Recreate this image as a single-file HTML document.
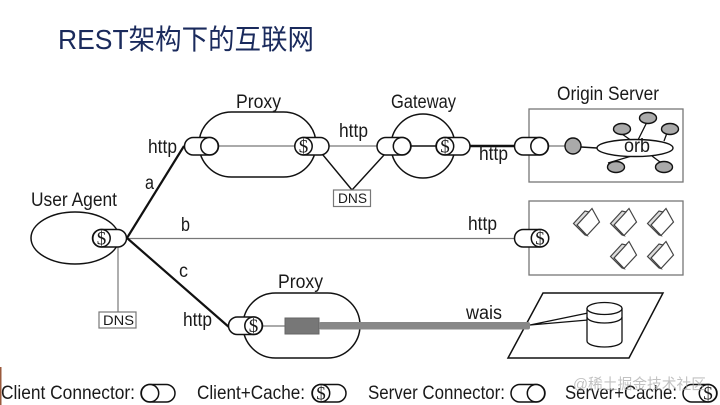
<!DOCTYPE html>
<html><head><meta charset="utf-8">
<style>
html,body{margin:0;padding:0;background:#fff;width:720px;height:405px;overflow:hidden}
svg{display:block;filter:blur(.35px)}
text{font-family:"Liberation Sans","Noto Sans CJK SC",sans-serif;fill:#1a1a1a}
.l{font-size:19px}
.d{font-family:"Liberation Serif",serif;font-size:19px;text-anchor:middle}
</style></head>
<body>
<svg width="720" height="405" viewBox="0 0 720 405" xmlns="http://www.w3.org/2000/svg">
<defs>
<g id="fold">
  <path d="M-9,3 L6,-13.500 L13.500,0 L1,13.500 Z" fill="#fff" stroke="#444" stroke-width="1.2"/>
  <path d="M-12.500,1.500 L-1,-11 L3,-10 L-9,3 L1,13.500 L-1,13 Z" fill="#ddd" stroke="#444" stroke-width="1.2"/>
</g>
<ellipse id="sat" rx="8.500" ry="5.500" fill="#aaa" stroke="#111" stroke-width="1.4"/>
</defs>
<rect width="720" height="405" fill="#fff"/>
<rect x="0" y="367" width="1.500" height="38" fill="#9a5a3c"/>

<text x="58" y="49" font-size="28" textLength="256" lengthAdjust="spacingAndGlyphs" style="fill:#1a2a5c">REST架构下的互联网</text>

<!-- nodes -->
<g fill="#fff" stroke="#111" stroke-width="1.500">
  <rect x="199" y="112" width="117" height="65" rx="32.500"/>
  <rect x="243" y="293" width="117" height="65" rx="32.500"/>
  <ellipse cx="75" cy="238" rx="44" ry="26"/>
  <circle cx="423" cy="146" r="32"/>
</g>
<g fill="#fff" stroke="#777" stroke-width="1.300">
  <rect x="529" y="109" width="154" height="73"/>
  <rect x="529" y="201" width="154" height="74"/>
</g>

<!-- thin lines -->
<g stroke="#777" stroke-width="1.200" fill="none">
  <path d="M127,238.500H515"/>
  <path d="M118,247V312"/>
  <path d="M218,146H294M329,146H377"/>
  <path d="M263,326H285"/>
  <path d="M548,146H565"/>
</g>

<!-- thick connectors -->
<g stroke="#111" fill="none">
  <path d="M127,238L184,146" stroke-width="2.200"/>
  <path d="M127,238L230,328" stroke-width="2.200"/>
  <path d="M323,155L352,190L384,155" stroke-width="1.400"/>
  <path d="M411,146H436" stroke-width="1.400"/>
  <path d="M470,146H515" stroke-width="2.600"/>
  <path d="M581,147L597,148" stroke-width="1.400"/>
  <path d="M638,140L647,122M622,134L632,141M664,141L667,133M608,163L635,155M660,162L652,156" stroke-width="1.300"/>
</g>

<!-- pills -->
<g fill="#fff" stroke="#111" stroke-width="1.500">
  <rect x="184.500" y="137.500" width="34" height="17.500" rx="8.750"/><circle cx="209.500" cy="146.200" r="8.700"/>
  <rect x="295" y="137.500" width="34" height="17.500" rx="8.750"/><circle cx="303.500" cy="146.200" r="8.700"/>
  <rect x="377" y="137.500" width="34" height="17.500" rx="8.750"/><circle cx="402" cy="146.200" r="8.700"/>
  <rect x="436" y="137.500" width="34" height="17.500" rx="8.750"/><circle cx="445" cy="146.200" r="8.700"/>
  <rect x="514.500" y="137.500" width="34" height="17.500" rx="8.750"/><circle cx="539.500" cy="146.200" r="8.700"/>
  <rect x="514.500" y="229.500" width="34" height="17.500" rx="8.750"/><circle cx="540" cy="238.200" r="8.700"/>
  <rect x="92.500" y="229.500" width="34" height="17.500" rx="8.750"/><circle cx="101.500" cy="238.200" r="8.700"/>
  <rect x="228.500" y="317" width="34" height="17.500" rx="8.750"/><circle cx="253.500" cy="325.700" r="8.700"/>
  <rect x="141" y="384.500" width="34" height="17.500" rx="8.750"/><circle cx="150" cy="393.200" r="8.700"/>
  <rect x="312" y="384.500" width="34" height="17.500" rx="8.750"/><circle cx="321" cy="393.200" r="8.700"/>
  <rect x="511" y="384.500" width="34" height="17.500" rx="8.750"/><circle cx="536" cy="393.200" r="8.700"/>
  <rect x="683" y="384.500" width="34" height="17.500" rx="8.750"/><circle cx="708" cy="393.200" r="8.700"/>
</g>
<text class="d" x="303.500" y="152.500">$</text>
<text class="d" x="445" y="152.500">$</text>
<text class="d" x="540" y="244.500">$</text>
<text class="d" x="101.500" y="244.500">$</text>
<text class="d" x="253.500" y="332">$</text>
<text class="d" x="321" y="399.500">$</text>
<text class="d" x="708" y="399.500">$</text>

<!-- origin server -->
<circle cx="573" cy="146" r="8" fill="#aaa" stroke="#111" stroke-width="1.400"/>
<ellipse cx="635" cy="148" rx="38" ry="8.500" fill="#fff" stroke="#111" stroke-width="1.400"/>
<use href="#sat" x="648" y="118"/>
<use href="#sat" x="622" y="129"/>
<use href="#sat" x="670" y="129"/>
<use href="#sat" x="616" y="167"/>
<use href="#sat" x="664" y="167"/>

<!-- folders -->
<use href="#fold" x="586" y="222"/>
<use href="#fold" x="623" y="222"/>
<use href="#fold" x="660" y="222"/>
<use href="#fold" x="623" y="255"/>
<use href="#fold" x="660" y="255"/>

<!-- DNS boxes -->
<g fill="#fff" stroke="#777" stroke-width="1.200">
  <rect x="99" y="312" width="37" height="16"/>
  <rect x="333.500" y="190" width="37" height="16.500"/>
</g>

<!-- wais -->
<path d="M543,293H663L629,358H508Z" fill="#fff" stroke="#111" stroke-width="1.500"/>
<path d="M530,325L588,313M530,325L588,320" stroke="#111" stroke-width="1.300" fill="none"/>
<path d="M587,308.500V341A17.500,6 0 0 0 622,341V308.500Z" fill="#fff" stroke="#111" stroke-width="1.300"/>
<ellipse cx="604.500" cy="308.500" rx="17.500" ry="6" fill="#fff" stroke="#111" stroke-width="1.300"/>
<path d="M587,317A17.500,6 0 0 0 622,317" fill="none" stroke="#111" stroke-width="1.300"/>
<rect x="285" y="318" width="34" height="16" fill="#777" stroke="#666"/>
<rect x="319" y="322" width="211" height="7.500" rx="2" fill="#888"/>

<!-- labels -->
<text class="l" x="236" y="108" textLength="45" lengthAdjust="spacingAndGlyphs">Proxy</text>
<text class="l" x="148" y="153" textLength="29" lengthAdjust="spacingAndGlyphs">http</text>
<text class="l" x="145" y="189" textLength="9" lengthAdjust="spacingAndGlyphs">a</text>
<text class="l" x="31" y="206" textLength="86" lengthAdjust="spacingAndGlyphs">User Agent</text>
<text class="l" x="181" y="231" textLength="9" lengthAdjust="spacingAndGlyphs">b</text>
<text class="l" x="179" y="277" textLength="9" lengthAdjust="spacingAndGlyphs">c</text>
<text class="l" x="183" y="326" textLength="29" lengthAdjust="spacingAndGlyphs">http</text>
<text class="l" x="278" y="288" textLength="45" lengthAdjust="spacingAndGlyphs">Proxy</text>
<text class="l" x="339" y="137" textLength="29" lengthAdjust="spacingAndGlyphs">http</text>
<text class="l" x="391" y="108" textLength="65" lengthAdjust="spacingAndGlyphs">Gateway</text>
<text class="l" x="557" y="100" textLength="102" lengthAdjust="spacingAndGlyphs">Origin Server</text>
<text class="l" x="479" y="160" textLength="29" lengthAdjust="spacingAndGlyphs">http</text>
<text class="l" x="468" y="230" textLength="29" lengthAdjust="spacingAndGlyphs">http</text>
<text class="l" x="466" y="319" textLength="36" lengthAdjust="spacingAndGlyphs">wais</text>
<text class="l" x="624" y="152" textLength="26" lengthAdjust="spacingAndGlyphs">orb</text>
<text x="103" y="325" font-size="14" textLength="31" lengthAdjust="spacingAndGlyphs">DNS</text>
<text x="338" y="203" font-size="14" textLength="29" lengthAdjust="spacingAndGlyphs">DNS</text>
<text class="l" x="1" y="399" textLength="134" lengthAdjust="spacingAndGlyphs">Client Connector:</text>
<text class="l" x="197" y="399" textLength="108" lengthAdjust="spacingAndGlyphs">Client+Cache:</text>
<text class="l" x="368" y="399" textLength="137" lengthAdjust="spacingAndGlyphs">Server Connector:</text>
<text class="l" x="565" y="399" textLength="112" lengthAdjust="spacingAndGlyphs">Server+Cache:</text>
<text x="573" y="389" font-size="15" textLength="133" lengthAdjust="spacingAndGlyphs" style="fill:#a8a8a8;fill-opacity:.7">@稀土掘金技术社区</text>
</svg>
</body></html>
